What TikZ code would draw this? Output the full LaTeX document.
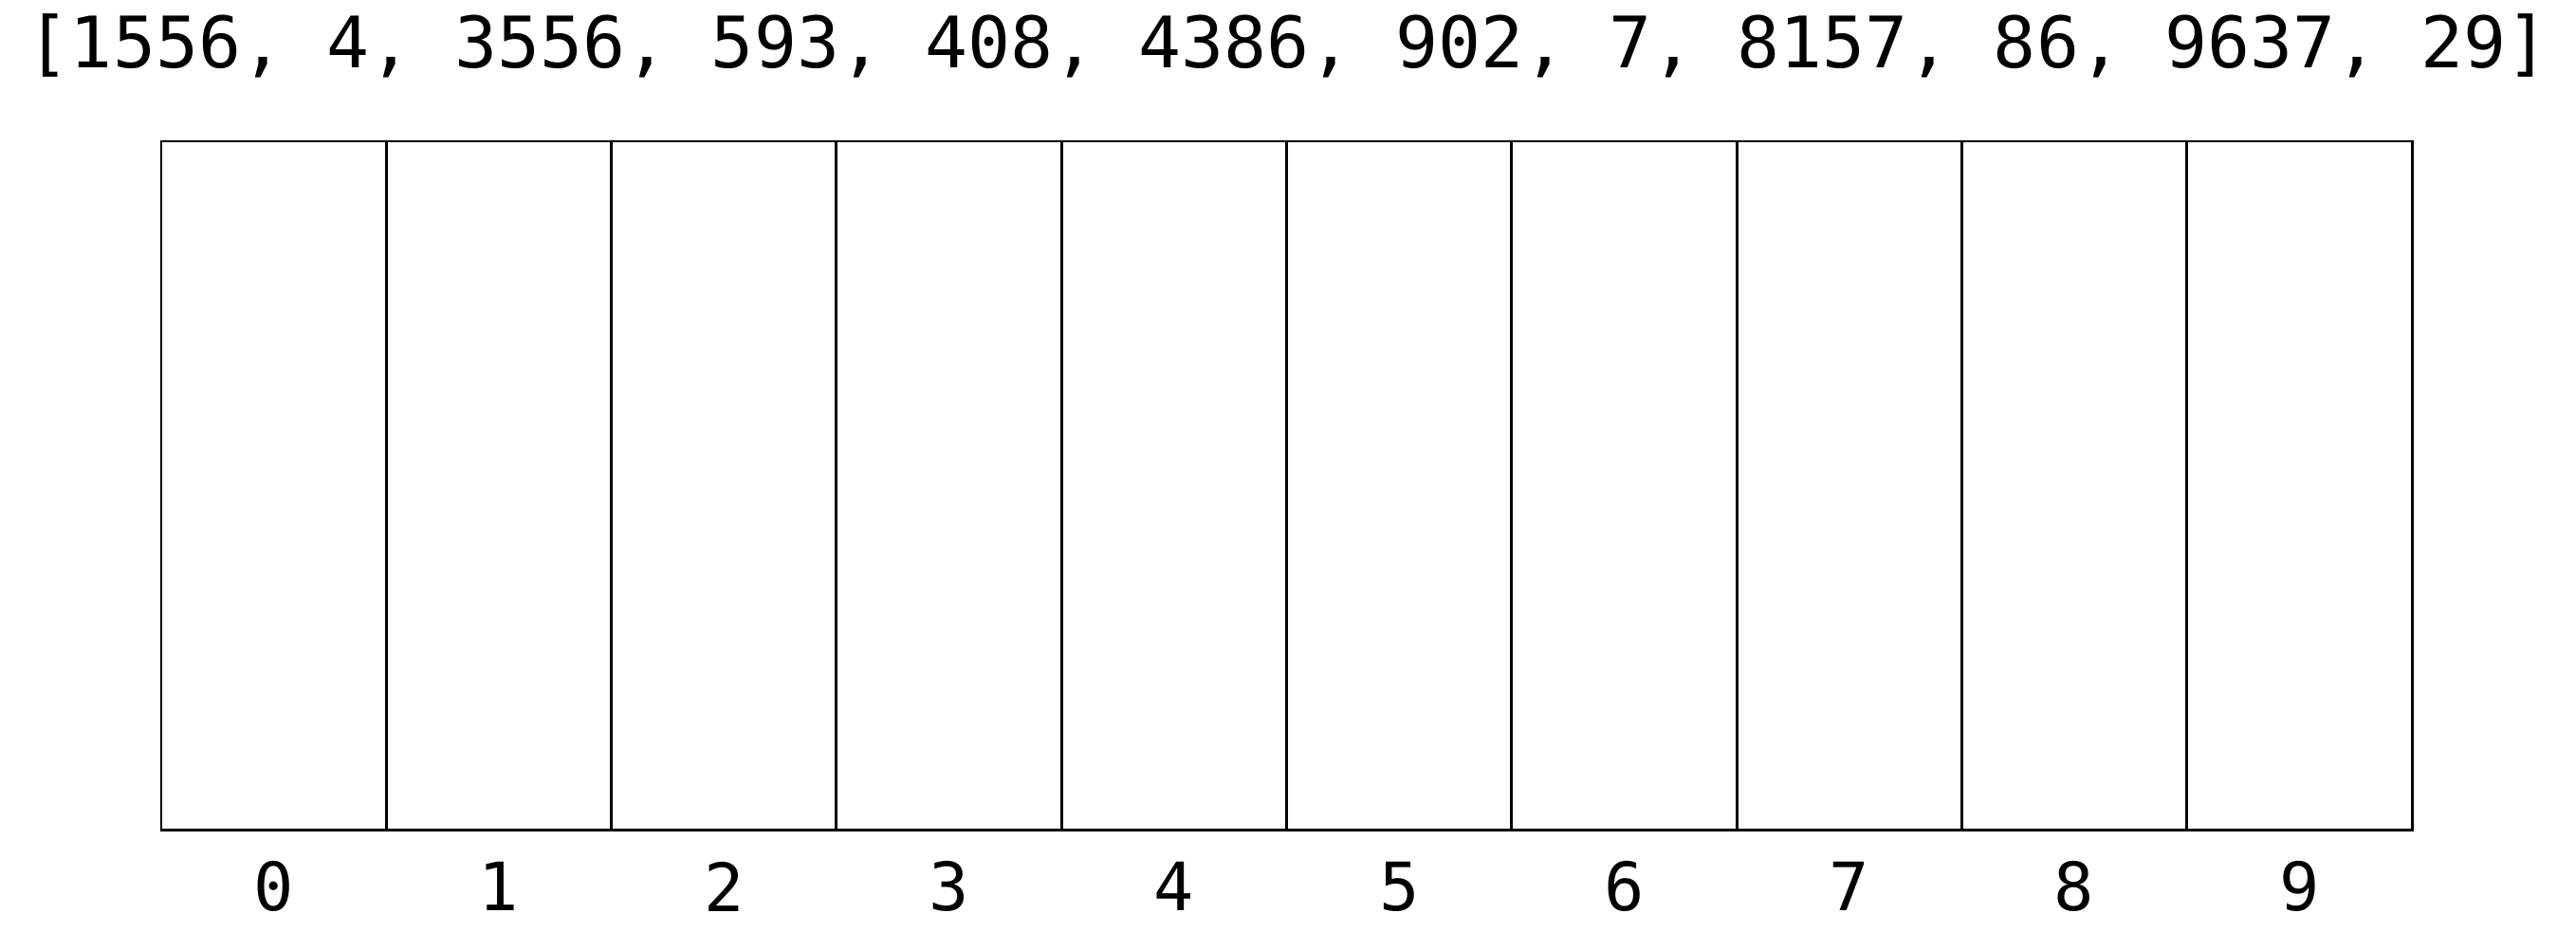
\documentclass[tikz,border=0pt]{standalone}
\usepackage{fontspec}
\setmonofont{DejaVu Sans Mono}
\usepackage{tikz}
\usetikzlibrary{positioning}
\tikzset{
  bucket/.style={draw,line width=0.85pt,minimum width=2.373cm,minimum height=7.26cm,inner sep=0pt},
  idx/.style={font=\fontsize{20}{24}\selectfont\ttfamily},
  arr/.style={font=\fontsize{21.3}{26}\selectfont\ttfamily,inner sep=0pt}
}

\begin{document}
\begin{tikzpicture}
  \useasboundingbox (0,0) rectangle (27.16,-10.02);
  \foreach \i in {0,...,9}{
    \node[bucket] (b\i) at ({1.70+(\i+0.5)*2.373},-5.12) {};
    \node[idx] (l\i) at ({1.70+(\i+0.5)*2.373},-9.35) {\i};
  }
  \node[arr] (nums) at (13.585,-0.48) {[1556, 4, 3556, 593, 408, 4386, 902, 7, 8157, 86, 9637, 29]};
\end{tikzpicture}
\end{document}
